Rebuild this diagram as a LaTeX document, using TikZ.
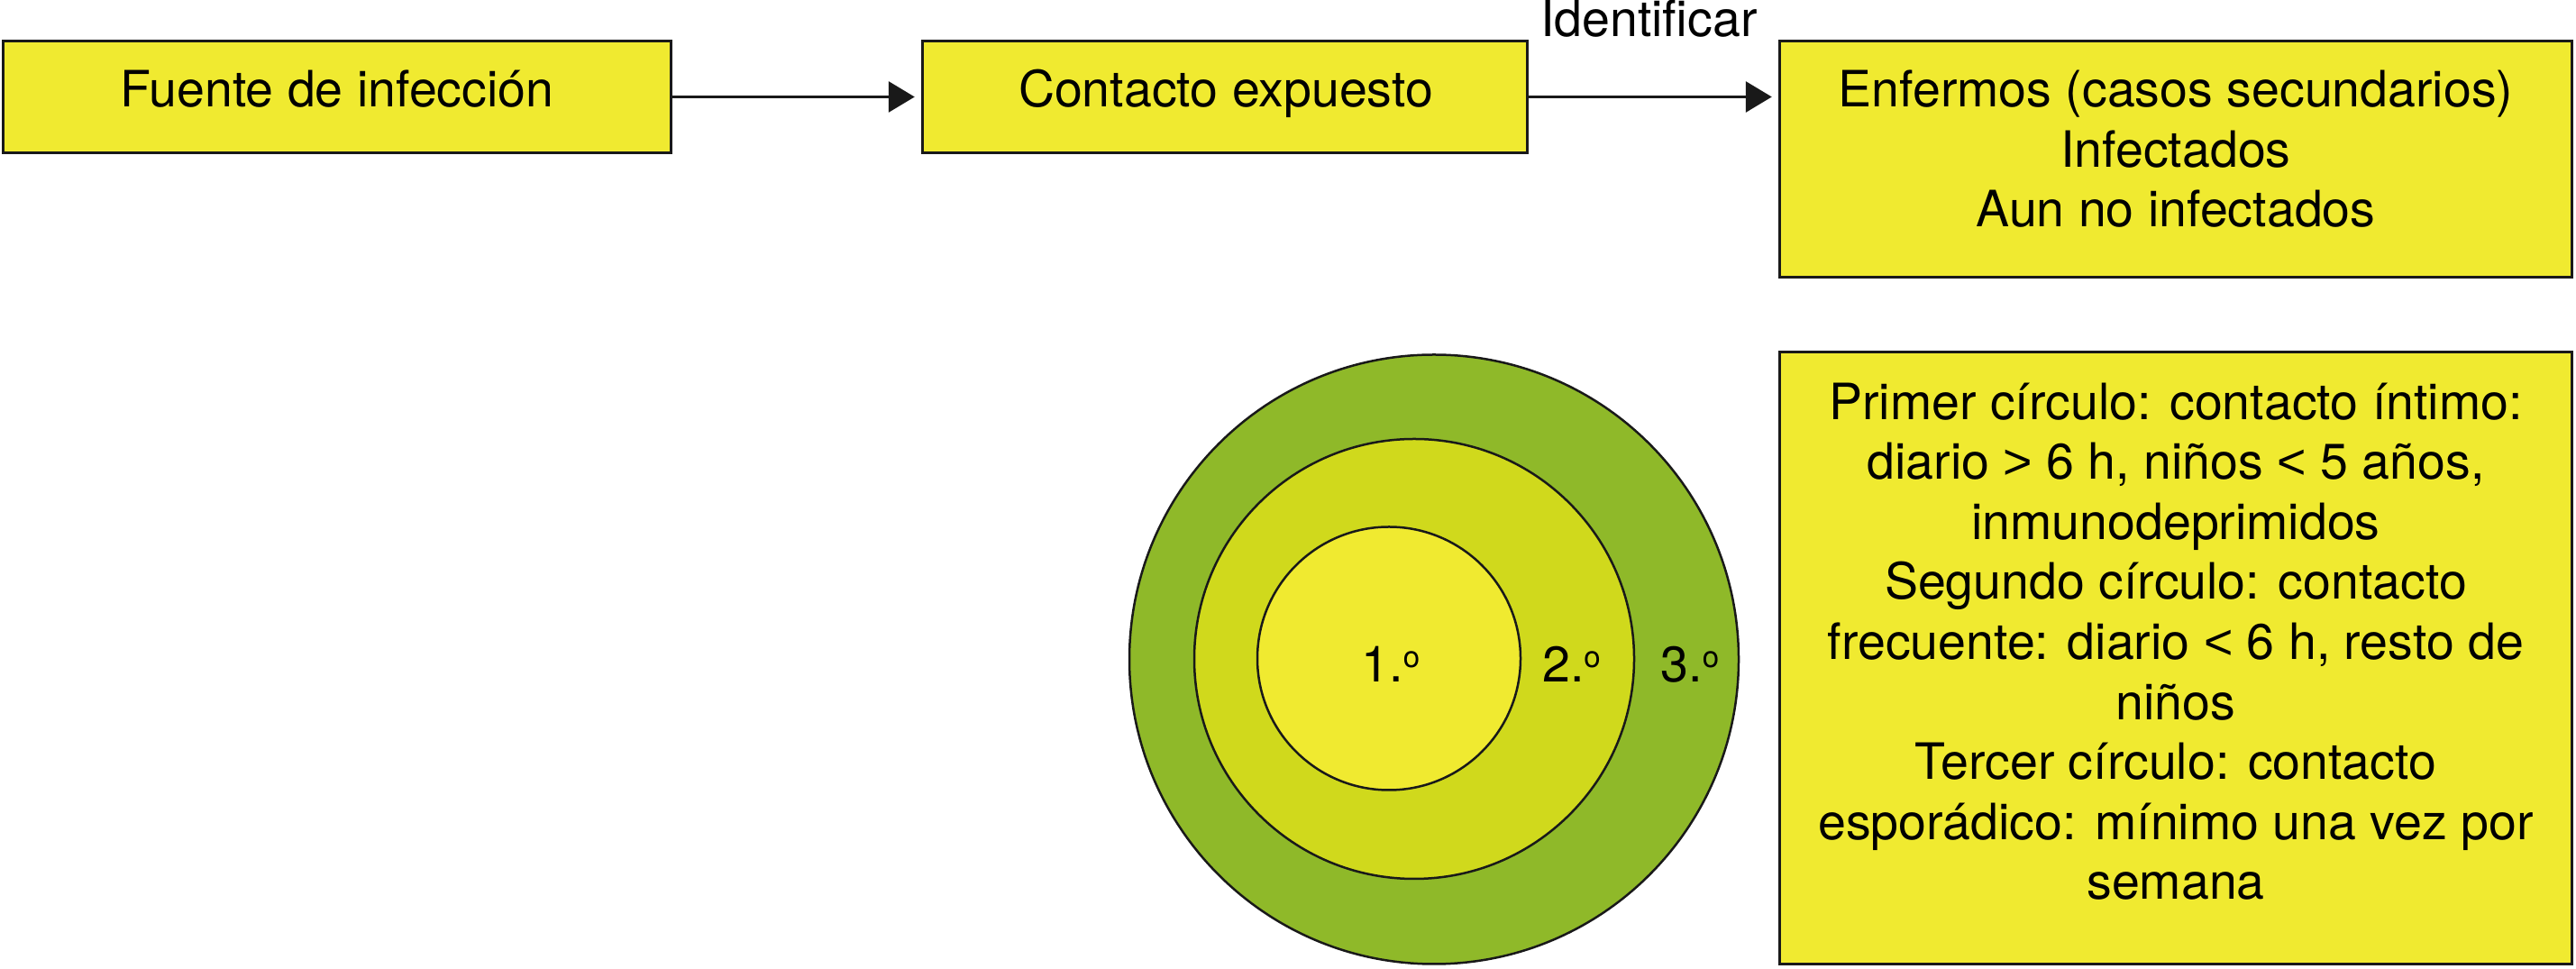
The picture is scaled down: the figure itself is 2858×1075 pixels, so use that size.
\documentclass[tikz,border=0pt]{standalone}
\usepackage{fontspec}
\setmainfont{TeX Gyre Heros}
\newfontfamily\relfont{Liberation Sans}
\usetikzlibrary{arrows.meta}
\definecolor{boxyellow}{RGB}{240,234,48}
\definecolor{midgreen}{RGB}{208,217,28}
\definecolor{outgreen}{RGB}{143,185,41}
\definecolor{linecol}{RGB}{25,25,25}
\newcommand{\ordo}{\raisebox{16pt}{\fontsize{33}{33}\selectfont o}}
\newcommand{\gtsym}{{\relfont >}}
\newcommand{\ltsym}{{\relfont <}}
\begin{document}
\begin{tikzpicture}[x=1pt,y=1pt,
  box/.style={draw=linecol, line width=3.5pt, fill=boxyellow, inner sep=0pt},
  txt/.style={inner sep=0pt, align=center, anchor=base, font=\fontsize{55.5}{66.6}\selectfont},
  ring/.style={circle, draw=linecol, line width=2.5pt, inner sep=0pt},
  conn/.style={-{Triangle[length=29pt,width=34pt]}, line width=3.2pt, draw=linecol, shorten >=7pt}]
\useasboundingbox (0,0) rectangle (2858,1075);
% boxes
\node[box, minimum width=741pt, minimum height=124pt] (b1) at (374,967.5) {};
\node[box, minimum width=671pt, minimum height=124pt] (b2) at (1359,967.5) {};
\node[box, minimum width=879pt, minimum height=262pt] (b3) at (2414,898.5) {};
\node[box, minimum width=879pt, minimum height=679pt] (b4) at (2414,345) {};
% box texts (base anchor = baseline of last line)
\node[txt] (t1) at (374,956) {Fuente de infección};
\node[txt] (t2) at (1360,956) {Contacto expuesto};
\node[txt] (t3) at (2414,823) {Enfermos (casos secundarios)\\Infectados\\Aun no infectados};
\node[txt] (t4) at (2414,77) {Primer círculo: contacto íntimo:\\diario \gtsym{} 6 h, niños \ltsym{} 5 años,\\inmunodeprimidos\\Segundo círculo: contacto\\frecuente: diario \ltsym{} 6 h, resto de\\niños\\Tercer círculo: contacto\\esporádico: mínimo una vez por\\semana};
% connectors
\draw[conn] (b1.east) -- (b2.west);
\draw[conn] (b2.east) -- node[txt, yshift=66.5pt, xshift=-5pt] (idl) {Identificar} (b3.west |- b2.east);
% circles
\node[ring, fill=outgreen, minimum size=676pt] (c3) at (1591,343.5) {};
\node[ring, fill=midgreen, minimum size=488pt] (c2) at (1569,344) {};
\node[ring, fill=boxyellow, minimum size=292pt] (c1) at (1541,344.5) {};
\node[txt] (l1) at (1543,318) {1.\ordo};
\node[txt] (l2) at (1743.5,318) {2.\ordo};
\node[txt] (l3) at (1875,318) {3.\ordo};
\end{tikzpicture}
\end{document}
